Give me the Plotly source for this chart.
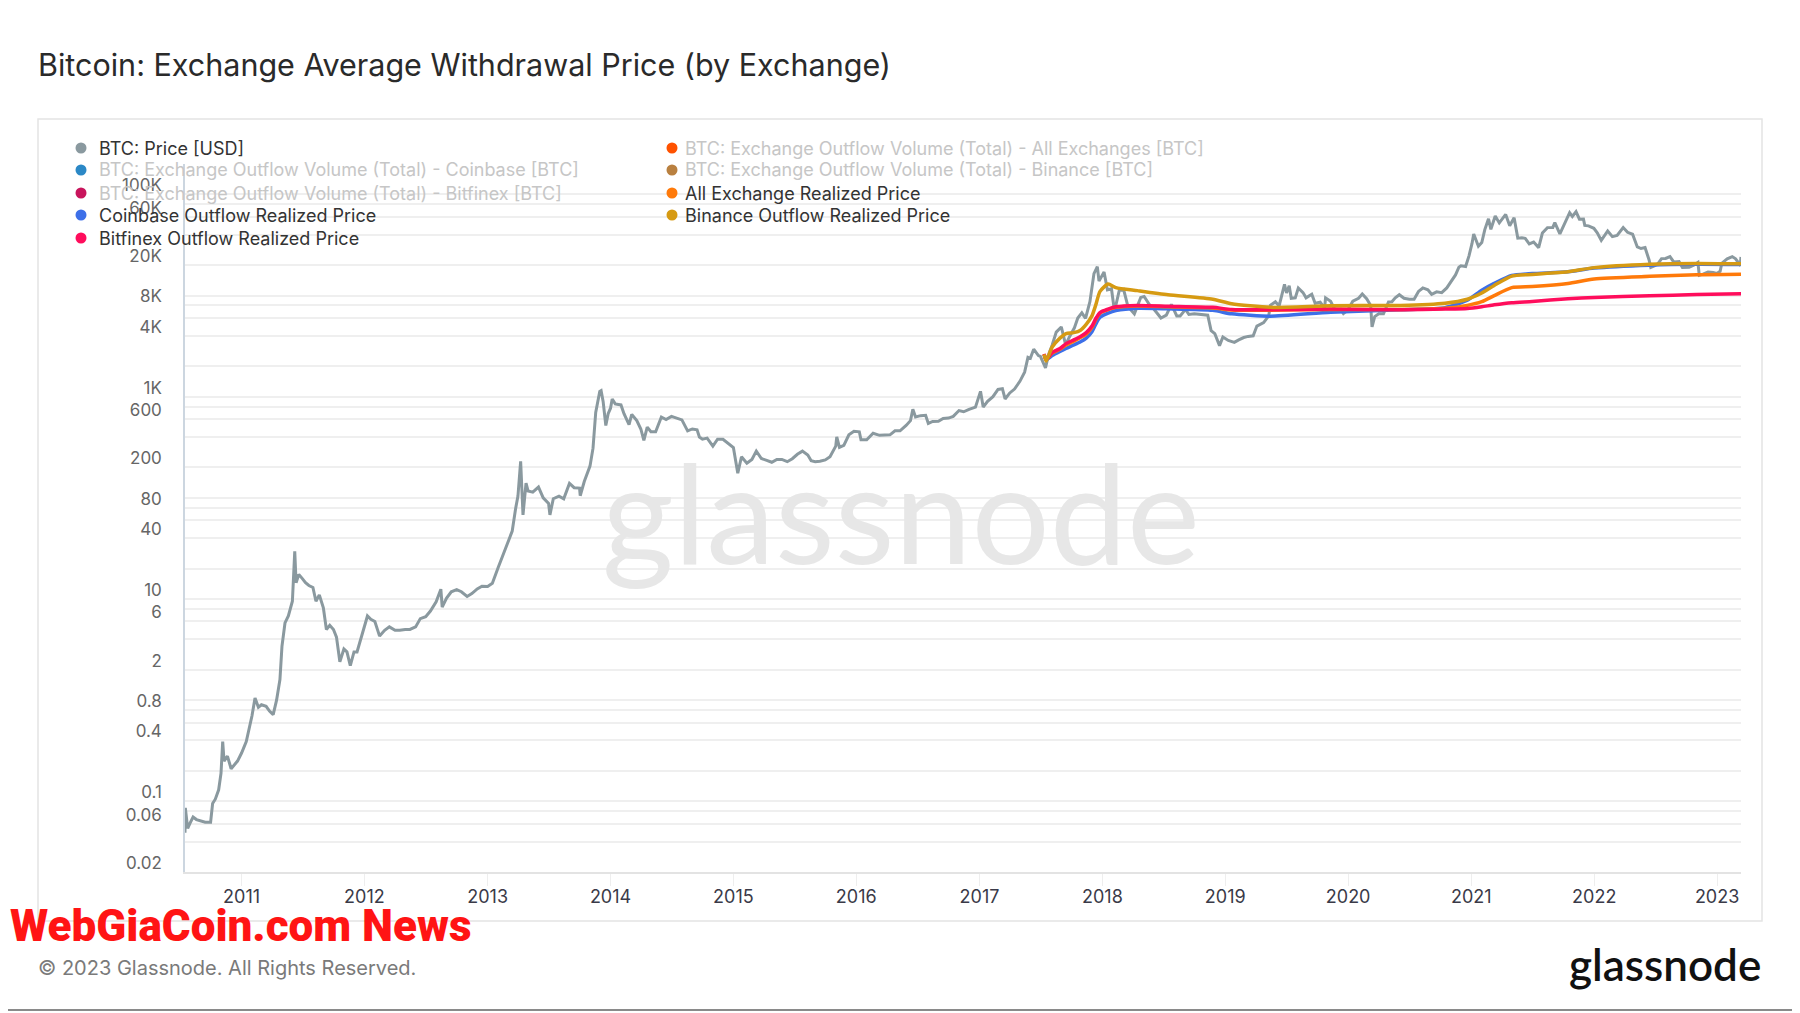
import plotly.graph_objects as go

# ---------------- data ----------------
price_dates = [
    "2010-07-17", "2010-07-18", "2010-07-20", "2010-07-25", "2010-08-01", "2010-08-10", "2010-08-20",
    "2010-09-01", "2010-09-15", "2010-10-01", "2010-10-07", "2010-10-15", "2010-10-25", "2010-11-01",
    "2010-11-06", "2010-11-10", "2010-11-20", "2010-12-01", "2010-12-10", "2010-12-20",
    "2011-01-01", "2011-01-15", "2011-02-01", "2011-02-10", "2011-02-20", "2011-03-01", "2011-03-15",
    "2011-03-25", "2011-04-05", "2011-04-15", "2011-04-25", "2011-05-01", "2011-05-10", "2011-05-20",
    "2011-06-01", "2011-06-08", "2011-06-12", "2011-06-20", "2011-06-30", "2011-07-10", "2011-07-20",
    "2011-08-01", "2011-08-10", "2011-08-20", "2011-09-01", "2011-09-10", "2011-09-20", "2011-10-01",
    "2011-10-10", "2011-10-20", "2011-11-01", "2011-11-10", "2011-11-20", "2011-12-01", "2011-12-10",
    "2011-12-20",
    "2012-01-01", "2012-01-10", "2012-01-20", "2012-02-01", "2012-02-15", "2012-03-01", "2012-03-15",
    "2012-04-01", "2012-04-15", "2012-05-01", "2012-05-15", "2012-06-01", "2012-06-15", "2012-07-01",
    "2012-07-15", "2012-08-01", "2012-08-15", "2012-08-19", "2012-09-01", "2012-09-15", "2012-10-01",
    "2012-10-15", "2012-11-01", "2012-11-15", "2012-12-01", "2012-12-15",
    "2013-01-01", "2013-01-15", "2013-02-01", "2013-02-15", "2013-03-01", "2013-03-15", "2013-03-25",
    "2013-04-01", "2013-04-09", "2013-04-16", "2013-04-25", "2013-05-01", "2013-05-15", "2013-06-01",
    "2013-06-15", "2013-07-01", "2013-07-05", "2013-07-15", "2013-08-01", "2013-08-15", "2013-09-01",
    "2013-09-15", "2013-10-01", "2013-10-03", "2013-10-15", "2013-11-01", "2013-11-10", "2013-11-18",
    "2013-11-30", "2013-12-04", "2013-12-10", "2013-12-18", "2013-12-25",
    "2014-01-01", "2014-01-06", "2014-01-15", "2014-02-01", "2014-02-10", "2014-02-25", "2014-03-05",
    "2014-03-20", "2014-04-01", "2014-04-10", "2014-04-20", "2014-05-01", "2014-05-15", "2014-06-01",
    "2014-06-15", "2014-07-01", "2014-07-15", "2014-08-01", "2014-08-18", "2014-09-01", "2014-09-15",
    "2014-09-22", "2014-10-01", "2014-10-15", "2014-11-01", "2014-11-15", "2014-12-01", "2014-12-15",
    "2015-01-01", "2015-01-14", "2015-01-25", "2015-02-10", "2015-02-25", "2015-03-10", "2015-03-25",
    "2015-04-10", "2015-04-25", "2015-05-10", "2015-05-25", "2015-06-10", "2015-06-25", "2015-07-10",
    "2015-07-25", "2015-08-10", "2015-08-20", "2015-09-01", "2015-09-15", "2015-10-01", "2015-10-15",
    "2015-11-01", "2015-11-04", "2015-11-12", "2015-11-25", "2015-12-10", "2015-12-25",
    "2016-01-10", "2016-01-15", "2016-02-01", "2016-02-20", "2016-03-10", "2016-03-25", "2016-04-10",
    "2016-04-25", "2016-05-10", "2016-05-28", "2016-06-10", "2016-06-17", "2016-06-25", "2016-07-10",
    "2016-07-25", "2016-08-02", "2016-08-15", "2016-09-01", "2016-09-15", "2016-10-01", "2016-10-15",
    "2016-11-01", "2016-11-15", "2016-12-01", "2016-12-20",
    "2017-01-04", "2017-01-12", "2017-01-25", "2017-02-10", "2017-02-25", "2017-03-10", "2017-03-18",
    "2017-04-01", "2017-04-15", "2017-05-01", "2017-05-15", "2017-05-25", "2017-06-01", "2017-06-11",
    "2017-06-25", "2017-07-01", "2017-07-16", "2017-07-25", "2017-08-05", "2017-08-17", "2017-09-01",
    "2017-09-14", "2017-09-25", "2017-10-10", "2017-10-20", "2017-11-01", "2017-11-12", "2017-11-25",
    "2017-12-07", "2017-12-17", "2017-12-22",
    "2018-01-06", "2018-01-16", "2018-01-28", "2018-02-06", "2018-02-20", "2018-03-05", "2018-03-18",
    "2018-04-06", "2018-04-25", "2018-05-05", "2018-05-20", "2018-06-01", "2018-06-24", "2018-07-10",
    "2018-07-25", "2018-08-10", "2018-08-20", "2018-09-05", "2018-09-15", "2018-10-01", "2018-10-25",
    "2018-11-10", "2018-11-20", "2018-12-01", "2018-12-15", "2018-12-25",
    "2019-01-10", "2019-01-28", "2019-02-10", "2019-02-25", "2019-03-10", "2019-03-25", "2019-04-05",
    "2019-04-25", "2019-05-10", "2019-05-15", "2019-05-30", "2019-06-10", "2019-06-26", "2019-07-02",
    "2019-07-10", "2019-07-16", "2019-07-28", "2019-08-06", "2019-08-20", "2019-08-29", "2019-09-15",
    "2019-09-25", "2019-10-10", "2019-10-23", "2019-10-26", "2019-11-10", "2019-11-25", "2019-12-10",
    "2019-12-18", "2019-12-31",
    "2020-01-15", "2020-02-01", "2020-02-12", "2020-02-25", "2020-03-08", "2020-03-12", "2020-03-20",
    "2020-04-01", "2020-04-15", "2020-04-30", "2020-05-10", "2020-05-20", "2020-06-01", "2020-06-15",
    "2020-07-01", "2020-07-15", "2020-07-28", "2020-08-10", "2020-08-25", "2020-09-05", "2020-09-20",
    "2020-10-05", "2020-10-20", "2020-11-01", "2020-11-15", "2020-11-25", "2020-12-01", "2020-12-15",
    "2020-12-25",
    "2021-01-03", "2021-01-08", "2021-01-22", "2021-02-01", "2021-02-10", "2021-02-21", "2021-02-28",
    "2021-03-13", "2021-03-25", "2021-04-13", "2021-04-25", "2021-05-08", "2021-05-19", "2021-05-31",
    "2021-06-10", "2021-06-22", "2021-07-05", "2021-07-20", "2021-07-31", "2021-08-15", "2021-08-31",
    "2021-09-06", "2021-09-21", "2021-10-01", "2021-10-20", "2021-10-28", "2021-11-08", "2021-11-18",
    "2021-11-30", "2021-12-04", "2021-12-15", "2021-12-31",
    "2022-01-10", "2022-01-22", "2022-02-10", "2022-02-24", "2022-03-10", "2022-03-28", "2022-04-10",
    "2022-04-25", "2022-05-09", "2022-05-20", "2022-06-01", "2022-06-13", "2022-06-18", "2022-06-30",
    "2022-07-10", "2022-07-20", "2022-08-01", "2022-08-14", "2022-08-25", "2022-09-10", "2022-09-20",
    "2022-10-10", "2022-10-25", "2022-11-05", "2022-11-09", "2022-11-20", "2022-12-05", "2022-12-20",
    "2022-12-31",
    "2023-01-10", "2023-01-15", "2023-01-31", "2023-02-15", "2023-02-25", "2023-03-09", "2023-03-11",
    "2023-03-13",
]
price_values = [
    0.049, 0.086, 0.075, 0.054, 0.061, 0.07, 0.066,
    0.064, 0.062, 0.062, 0.095, 0.105, 0.13, 0.19,
    0.39, 0.25, 0.28, 0.21, 0.23, 0.25,
    0.30, 0.39, 0.70, 1.05, 0.85, 0.90, 0.87,
    0.78, 0.72, 1.0, 1.6, 3.4, 5.8, 6.8,
    9.5, 29.6, 14.5, 17.5, 16.0, 14.5, 13.6,
    13.0, 9.5, 11.0, 8.2, 5.0, 5.5, 5.0,
    4.2, 2.4, 3.2, 3.0, 2.2, 3.0, 3.0,
    3.9,
    5.3, 6.8, 6.3, 6.0, 4.3, 4.9, 5.3,
    4.9, 4.9, 5.0, 5.0, 5.3, 6.4, 6.7,
    7.6, 9.4, 12.5, 8.3, 10.2, 11.8, 12.4,
    11.8, 10.6, 11.3, 12.6, 13.4,
    13.3, 14.3, 20.4, 27.0, 34.5, 47, 78,
    104, 230, 68, 140, 117, 114, 128,
    100, 88, 68, 98, 104, 98, 139,
    126, 125, 105, 145, 206, 310, 700,
    1130, 1150, 900, 520, 680,
    770, 950, 850, 830, 680, 530, 670,
    580, 480, 370, 500, 450, 450, 630,
    595, 640, 620, 590, 460, 480, 470,
    400, 380, 390, 325, 380, 380, 350,
    315, 175, 255, 220, 240, 290, 245,
    235, 225, 240, 240, 228, 244, 270,
    290, 265, 233, 228, 230, 237, 255,
    325, 400, 315, 330, 420, 455,
    450, 375, 375, 435, 415, 415, 420,
    460, 460, 520, 580, 750, 630, 650,
    655, 545, 570, 573, 610, 615, 640,
    730, 710, 750, 790,
    1130, 790, 900, 1000, 1180, 1200, 950,
    1090, 1190, 1420, 1750, 2450, 2400, 2950,
    2550, 2500, 1930, 2600, 3250, 4350, 4900,
    3250, 3900, 4800, 6000, 6750, 5950, 8700,
    16500, 19300, 13900,
    17100, 11400, 11700, 7000, 11200, 11500, 7800,
    6600, 9600, 9800, 8200, 7500, 6000, 6400,
    8200, 6300, 6300, 7300, 6500, 6600, 6500,
    6400, 4500, 4200, 3200, 3900,
    3600, 3450, 3650, 3850, 3950, 4000, 5000,
    5400, 6300, 8000, 8700, 7900, 12900, 10600,
    12500, 9400, 9500, 11900, 10700, 9500, 10300,
    8400, 8600, 7500, 9500, 8800, 7000, 7300,
    6650, 7200,
    8800, 9400, 10350, 9300, 8000, 4900, 6200,
    6600, 6600, 8650, 8700, 9500, 10200, 9400,
    9200, 9200, 11000, 11900, 11400, 10300, 10900,
    10700, 11900, 13700, 16000, 19100, 19700, 19400,
    24700,
    32800, 40600, 30800, 33500, 44900, 57500, 45200,
    61200, 52300, 63500, 49000, 58800, 37000, 37300,
    36800, 32500, 33800, 29800, 41500, 47000, 47200,
    52700, 40700, 48200, 66000, 60600, 67500, 56900,
    57000, 49400, 48900, 46300,
    41800, 35100, 43500, 38300, 39400, 47100, 42200,
    40400, 30300, 29200, 29800, 22500, 19000, 19800,
    20800, 23200, 23300, 24300, 21500, 21700, 19000,
    19100, 20100, 21300, 15900, 16300, 17100, 16900,
    16550,
    17400, 20900, 23100, 24300, 23100, 20300, 20600,
    24100,
]

rp_dates = [
    "2017-07-12", "2017-07-18", "2017-08-05", "2017-08-28", "2017-09-15", "2017-10-08", "2017-10-28",
    "2017-11-14", "2017-12-01", "2017-12-12", "2017-12-25", "2018-01-18", "2018-02-10", "2018-04-15",
    "2018-07-15", "2018-11-25", "2019-01-20", "2019-05-15", "2019-11-10", "2020-06-05", "2020-10-15",
    "2020-12-20", "2021-02-01", "2021-03-10", "2021-05-01", "2021-07-01", "2021-10-15", "2022-01-01",
    "2022-06-15", "2022-11-01", "2023-03-13",
]
coinbase_rp = [
    2600, 2330, 2550, 2800, 3000, 3250, 3500,
    3800, 4400, 5200, 6100, 6700, 7100, 7500,
    7400, 7150, 6600, 6250, 6850, 7250, 7600,
    9000, 11300, 13200, 15800, 16500, 17200, 18700,
    20000, 20400, 20300,
]
bitfinex_rp = [
    2650, 2330, 2750, 3000, 3350, 3650, 3950,
    4300, 5000, 5900, 6800, 7350, 7750, 8000,
    7850, 7650, 7300, 7250, 7350, 7250, 7350,
    7450, 7750, 8100, 8500, 8750, 9300, 9600,
    9950, 10250, 10400,
]
all_exchange_rp = [
    2620, 2330, 2700, 2950, 3250, 3550, 3850,
    4150, 4850, 5750, 6700, 7250, 7650, 7900,
    7750, 7550, 7200, 7150, 7300, 7300, 7500,
    8000, 8700, 10000, 12000, 12300, 13200, 14600,
    15500, 16100, 16300,
]
binance_rp = [
    2620, 2250, 3100, 3800, 4200, 4300, 4550,
    5200, 6300, 8000, 11000, 13000, 12000, 11200,
    10200, 9200, 8300, 7650, 7950, 8000, 8400,
    9200, 10600, 12600, 15600, 16200, 17200, 18900,
    20400, 20800, 20600,
]

y_tick_values = [0.02, 0.04, 0.06, 0.08, 0.1, 0.2, 0.4, 0.6, 0.8, 1, 2, 4, 6, 8, 10, 20, 40, 60, 80,
                 100, 200, 400, 600, 800, 1000, 2000, 4000, 6000, 8000, 10000, 20000, 40000, 60000,
                 80000, 100000, 200000]
y_tick_labels = ["0.02", "", "0.06", "", "0.1", "", "0.4", "", "0.8", "", "2", "", "6", "", "10", "",
                 "40", "", "80", "", "200", "", "600", "", "1K", "", "4K", "", "8K", "", "20K", "",
                 "60K", "", "100K", ""]

legend_left_names = ["BTC: Price [USD]",
                     "BTC: Exchange Outflow Volume (Total) - Coinbase [BTC]",
                     "BTC: Exchange Outflow Volume (Total) - Bitfinex [BTC]",
                     "Coinbase Outflow Realized Price",
                     "Bitfinex Outflow Realized Price"]
legend_left_active = [True, False, False, True, True]
legend_right_names = ["BTC: Exchange Outflow Volume (Total) - All Exchanges [BTC]",
                      "BTC: Exchange Outflow Volume (Total) - Binance [BTC]",
                      "All Exchange Realized Price",
                      "Binance Outflow Realized Price"]
legend_right_active = [False, False, True, True]

# ---------------- styling ----------------
# the page body adds an 8px margin, so the figure is sized and laid out to compensate
OFF = 8
W, H = 1800 - OFF, 1013 - OFF
PL, PR, PT, PB = 185, 1741, 164, 872          # plot area in screen pixels
ML, MR, MT, MB = PL - OFF, W - (PR - OFF), PT - OFF, H - (PB - OFF)
PW, PH = PR - PL, PB - PT

def px(x):
    return (x - PL) / PW

def py(y):
    return (PB - y) / PH

C_PRICE = "#8a999f"
C_CB = "#3d6fe8"
C_BF = "#ff0d5c"
C_AE = "#ff7a0a"
C_BN = "#d69a12"
left_colors = [C_PRICE, "#2b88c6", "#c8155c", C_CB, C_BF]
right_colors = ["#ff5200", "#b98040", C_AE, C_BN]

FONT = "Inter, Roboto, sans-serif"

fig = go.Figure()
fig.add_trace(go.Scatter(x=price_dates, y=price_values, mode="lines",
                         line=dict(color=C_PRICE, width=3), name=legend_left_names[0]))
fig.add_trace(go.Scatter(x=rp_dates, y=coinbase_rp, mode="lines",
                         line=dict(color=C_CB, width=3.5, shape="spline", smoothing=0.6),
                         name=legend_left_names[3]))
fig.add_trace(go.Scatter(x=rp_dates, y=all_exchange_rp, mode="lines",
                         line=dict(color=C_AE, width=3.5, shape="spline", smoothing=0.6),
                         name=legend_right_names[2]))
fig.add_trace(go.Scatter(x=rp_dates, y=bitfinex_rp, mode="lines",
                         line=dict(color=C_BF, width=3.5, shape="spline", smoothing=0.6),
                         name=legend_left_names[4]))
fig.add_trace(go.Scatter(x=rp_dates, y=binance_rp, mode="lines",
                         line=dict(color=C_BN, width=3.5, shape="spline", smoothing=0.6),
                         name=legend_right_names[3]))

annotations = []
shapes = []

# outer frame
shapes.append(dict(type="rect", xref="paper", yref="paper", x0=px(38), x1=px(1762), y0=py(921), y1=py(119),
                   line=dict(color="#e4e4e4", width=1.5), layer="below"))
# bottom border line
shapes.append(dict(type="line", xref="paper", yref="paper", x0=px(0), x1=px(1800), y0=py(1010), y1=py(1010),
                   line=dict(color="#8a8a8a", width=2)))

# manual legend
row_y = [148, 170, 193, 215, 238]
for i, (name, act) in enumerate(zip(legend_left_names, legend_left_active)):
    shapes.append(dict(type="circle", xref="paper", yref="paper", xsizemode="pixel", ysizemode="pixel",
                       xanchor=px(81), yanchor=py(row_y[i]), x0=-5.5, x1=5.5, y0=-5.5, y1=5.5,
                       fillcolor=left_colors[i], line=dict(width=0)))
    annotations.append(dict(x=px(97), y=py(row_y[i]), xref="paper", yref="paper", text=name,
                            showarrow=False, xanchor="left", yanchor="middle",
                            font=dict(family=FONT, size=18, color="#333333" if act else "#c6c6c6")))
for i, (name, act) in enumerate(zip(legend_right_names, legend_right_active)):
    shapes.append(dict(type="circle", xref="paper", yref="paper", xsizemode="pixel", ysizemode="pixel",
                       xanchor=px(672), yanchor=py(row_y[i]), x0=-5.5, x1=5.5, y0=-5.5, y1=5.5,
                       fillcolor=right_colors[i], line=dict(width=0)))
    annotations.append(dict(x=px(683), y=py(row_y[i]), xref="paper", yref="paper", text=name,
                            showarrow=False, xanchor="left", yanchor="middle",
                            font=dict(family=FONT, size=18, color="#333333" if act else "#c6c6c6")))

# title
annotations.append(dict(x=px(36), y=py(64), xref="paper", yref="paper",
                        text="Bitcoin: Exchange Average Withdrawal Price (by Exchange)",
                        showarrow=False, xanchor="left", yanchor="middle",
                        font=dict(family=FONT, size=30.5, color="#2a2a2a")))
# watermark
annotations.append(dict(x=px(901), y=py(510), xref="paper", yref="paper", text="glassnode",
                        showarrow=False, xanchor="center", yanchor="middle",
                        font=dict(family="Lato, sans-serif", size=138, color="#e7e7e7")))
# footer
annotations.append(dict(x=px(8), y=py(926), xref="paper", yref="paper", text="WebGiaCoin.com News",
                        showarrow=False, xanchor="left", yanchor="middle",
                        font=dict(family="Roboto, sans-serif", size=44, color="#ff1414", weight=900)))
annotations.append(dict(x=px(36), y=py(968), xref="paper", yref="paper",
                        text="© 2023 Glassnode. All Rights Reserved.",
                        showarrow=False, xanchor="left", yanchor="middle",
                        font=dict(family=FONT, size=20, color="#7a7a7a")))
annotations.append(dict(x=px(1763), y=py(964), xref="paper", yref="paper", text="glassnode",
                        showarrow=False, xanchor="right", yanchor="middle",
                        font=dict(family="Lato, sans-serif", size=44, color="#111111", weight=600)))

fig.update_layout(
    width=W, height=H,
    margin=dict(l=ML, r=MR, t=MT, b=MB),
    paper_bgcolor="white", plot_bgcolor="white",
    showlegend=False,
    annotations=annotations, shapes=shapes,
    font=dict(family=FONT),
    xaxis=dict(
        type="date", range=["2010-07-17", "2023-03-13"],
        tick0="2011-01-01", dtick="M12", tickformat="%Y",
        showgrid=False, zeroline=False,
        showline=True, linecolor="#e3e3e3", linewidth=2,
        ticks="outside", ticklen=12, tickcolor="#eeeeee", tickwidth=1,
        ticklabelstandoff=-5,
        tickfont=dict(family=FONT, size=18, color="#3a3a48"),
    ),
    yaxis=dict(
        type="log", range=[-1.69897, 5.30103],
        tickmode="array", tickvals=y_tick_values, ticktext=y_tick_labels,
        showgrid=True, gridcolor="#efefef", gridwidth=1.5, zeroline=False,
        showline=True, linecolor="#ccd6e0", linewidth=1.5,
        ticks="", ticklabelstandoff=18, ticklabelshift=-9,
        tickfont=dict(family=FONT, size=17, color="#666666"),
    ),
)

fig.write_html("out.html")
